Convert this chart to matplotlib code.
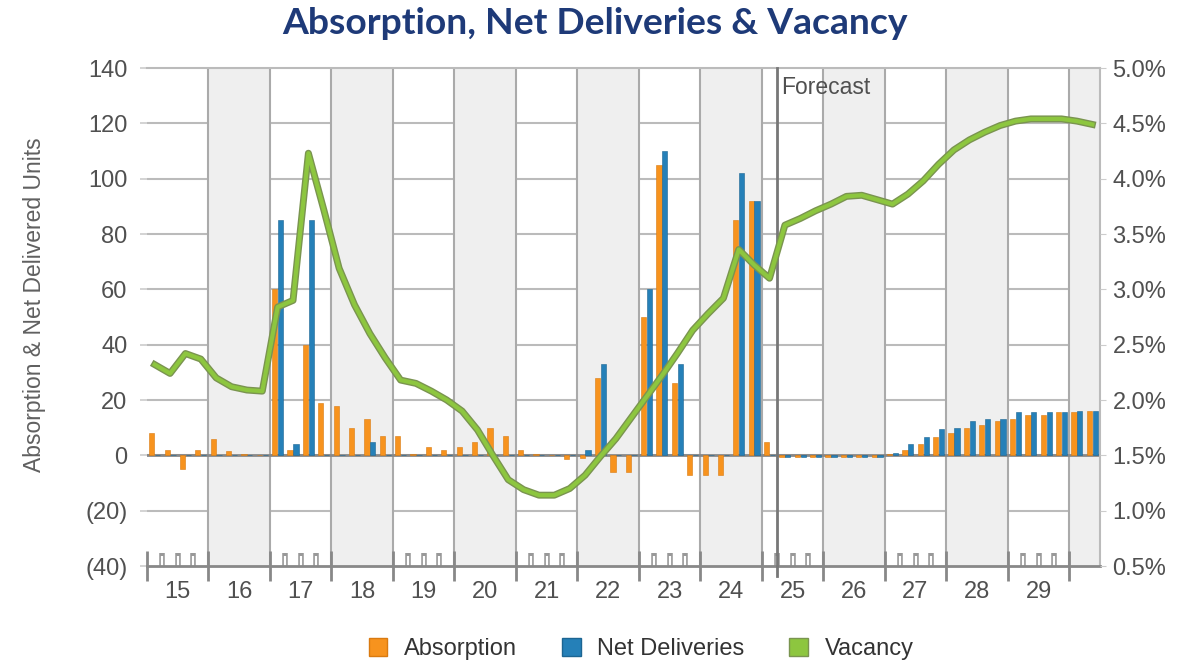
import matplotlib
matplotlib.use("Agg")
import matplotlib.pyplot as plt
import matplotlib.patches as mpatches
import matplotlib.patheffects as pe
from matplotlib.ticker import FuncFormatter, MultipleLocator

plt.rcParams['font.family'] = ['Liberation Sans', 'DejaVu Sans']

# quarterly data, 2015 Q1 .. 2030 Q2
years = ['15', '16', '17', '18', '19', '20', '21', '22', '23', '24', '25', '26', '27', '28', '29']

absorption = [8, 2, -5, 2,
              6, 1.5, 0.5, 0,
              60, 2, 40, 19,
              18, 10, 13, 7,
              7, 0.5, 3, 2,
              3, 5, 10, 7,
              2, 0.5, 0, -1.5,
              -1, 28, -6, -6,
              50, 105, 26, -7,
              -7, -7, 85, 92,
              5, -0.5, -0.5, -0.5,
              -0.5, -0.5, -0.5, -0.5,
              0.5, 2, 4, 6.5,
              8, 10, 11, 12.5,
              13, 14.5, 14.5, 15.5,
              15.5, 16]

deliveries = [0, 0, 0, 0,
              0, 0, 0, 0,
              85, 4, 85, 0,
              0, 0, 5, 0,
              0, 0, 0, 0,
              0, 0, 0, 0,
              0, 0, 0, 0,
              2, 33, 0, 0,
              60, 110, 33, 0,
              0, 0, 102, 92,
              0, -0.5, -0.5, -0.5,
              -0.5, -0.5, -0.5, -0.5,
              1, 4, 6.5, 9.5,
              10, 12.5, 13, 13,
              15.5, 15.5, 15.5, 15.5,
              16, 16]

vacancy = [2.32, 2.24, 2.42, 2.37,
           2.20, 2.12, 2.09, 2.08,
           2.84, 2.90, 4.23, 3.72,
           3.19, 2.86, 2.60, 2.38,
           2.18, 2.15, 2.08, 2.00,
           1.90, 1.73, 1.50, 1.28,
           1.19, 1.14, 1.14, 1.20,
           1.32, 1.49, 1.65, 1.84,
           2.03, 2.22, 2.42, 2.63,
           2.78, 2.92, 3.36, 3.22,
           3.10, 3.58, 3.64, 3.71,
           3.77, 3.84, 3.85, 3.81,
           3.77, 3.86, 3.98, 4.13,
           4.26, 4.35, 4.42, 4.48,
           4.52, 4.54, 4.54, 4.54,
           4.52, 4.49]

forecast_start = 41  # 2025 Q2

orange = '#f7931e'
blue = '#2580b8'
green = '#8dc63f'
label_col = '#505050'

n = len(vacancy)
x = list(range(n))

fig = plt.figure(figsize=(11.94, 6.64), dpi=100)
ax = fig.add_axes([0.12312, 0.14759, 0.79816, 0.75])

ax.set_xlim(-0.5, n - 0.5)
ax.set_ylim(-40, 140)

# horizontal grid (hidden under the shaded years)
for v in range(-20, 140, 20):
    ax.axhline(v, color='#bbbbbb', lw=1.5, zorder=0.5)

# small quarter ticks along the bottom
minor_q = [q - 0.5 for q in range(1, n) if q % 4 != 0]
ax.vlines(minor_q, 0, 0.026, transform=ax.get_xaxis_transform(), color='#999999', lw=4, zorder=0.8)
ax.vlines(minor_q, 0, 0.02, transform=ax.get_xaxis_transform(), color='white', lw=1.6, zorder=0.85)

# alternate year shading
for k in range(1, len(years) + 1, 2):
    ax.axvspan(4 * k - 0.5, min(4 * k + 3.5, n - 0.5), color='#efefef', lw=0, zorder=1)

# year boundaries
bounds = [4 * k - 0.5 for k in range(1, len(years) + 1)]
ax.vlines(bounds, -40, 140, color='#aaaaaa', lw=1.5, zorder=1.5)
ax.vlines(bounds + [-0.5], -0.03, 0.03, transform=ax.get_xaxis_transform(), color='#888888', lw=2,
          zorder=1.6, clip_on=False)

ax.axhline(0, color='#888888', lw=2, zorder=2)

# bars
w = 0.34
ax.bar([i - 0.19 for i in x], absorption, width=w, color=orange, edgecolor='#d97a10', lw=0.4, zorder=3)
ax.bar([i + 0.19 for i in x], deliveries, width=w, color=blue, edgecolor='#1c6592', lw=0.4, zorder=3)

# forecast divider
ax.axvline(forecast_start - 0.5, ymin=-0.02, ymax=1, color='#777777', lw=2, zorder=4, clip_on=False)
ax.text(forecast_start - 0.27, 133, 'Forecast', fontsize=16.5, color=label_col, va='center', ha='left', zorder=5)

# axes styling
ax.set_xticks([4 * k + 1.5 for k in range(len(years))])
ax.set_xticklabels(years)
ax.tick_params(axis='x', length=0, pad=11, labelsize=17, labelcolor=label_col)
ax.yaxis.set_major_locator(MultipleLocator(20))
ax.yaxis.set_major_formatter(FuncFormatter(lambda v, p: f'({abs(int(v))})' if v < 0 else f'{int(v)}'))
ax.tick_params(axis='y', length=5, width=1.2, color='#cccccc', pad=9, labelsize=17, labelcolor=label_col)
for s in ['top', 'right']:
    ax.spines[s].set_color('#bbbbbb')
    ax.spines[s].set_linewidth(1.5)
ax.spines['left'].set_visible(False)
ax.spines['bottom'].set_color('#888888')
ax.spines['bottom'].set_linewidth(2)

# vacancy on right axis
ax2 = ax.twinx()
ax2.set_ylim(0.5, 5.0)
ax2.plot(x, vacancy, color=green, lw=3, solid_joinstyle='round', zorder=6,
         path_effects=[pe.Stroke(linewidth=5, foreground='#7a9450'), pe.Normal()])
ax2.yaxis.set_major_locator(MultipleLocator(0.5))
ax2.yaxis.set_major_formatter(FuncFormatter(lambda v, p: f'{v:.1f}%'))
ax2.tick_params(axis='y', length=4, color='#cccccc', pad=5, labelsize=17, labelcolor=label_col)
for s in ax2.spines.values():
    s.set_visible(False)

fig.text(0.4987, 1 - 23 / 664, 'Absorption, Net Deliveries & Vacancy', ha='center', va='center',
         fontfamily='Lato', fontweight='bold', fontsize=26.8, color='#1e3a78')
fig.text(35 / 1194, 1 - 305 / 664, 'Absorption & Net Delivered Units', rotation=90, ha='center',
         va='center', fontsize=16.5, color='#606060')

handles = [mpatches.Patch(facecolor=orange, edgecolor='#d97a10', label='Absorption'),
           mpatches.Patch(facecolor=blue, edgecolor='#1c6592', label='Net Deliveries'),
           mpatches.Patch(facecolor=green, edgecolor='#7a9450', label='Vacancy')]
leg = fig.legend(handles=handles, loc='center', bbox_to_anchor=(0.537, 1 - 649 / 664), ncol=3,
                 frameon=False, fontsize=17, handlelength=0.8, handleheight=0.8,
                 handletextpad=0.7, columnspacing=1.9)
for t in leg.get_texts():
    t.set_color('#333333')

fig.savefig('out.png', dpi=100)
